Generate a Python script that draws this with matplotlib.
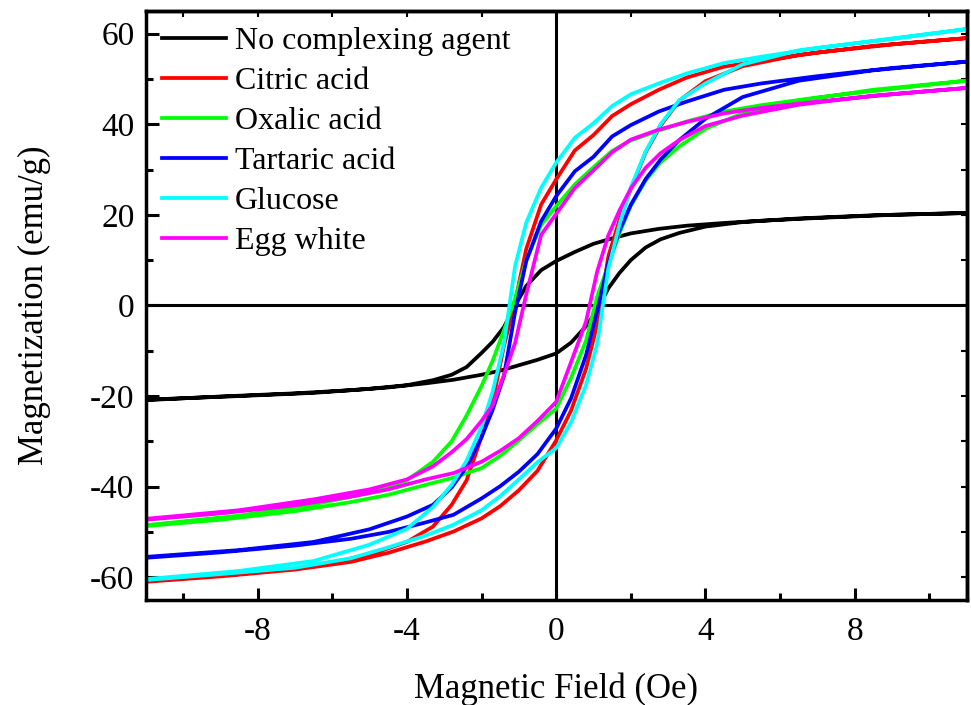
import matplotlib
matplotlib.use("Agg")
import matplotlib.pyplot as plt
from matplotlib.ticker import MultipleLocator

plt.rcParams['font.family'] = ['Liberation Serif', 'DejaVu Serif']
plt.rcParams['axes.unicode_minus'] = False

# field values (Oe): descending branch from +11 to -11, ascending branch back
field_down = [11, 9, 7, 5.5, 4.5, 3.5, 2.75, 2.0, 1.5, 1.0, 0.5, 0, -0.4, -0.8, -1.1,
              -1.4, -1.7, -2.0, -2.4, -2.8, -3.3, -4.0, -5.0, -6.5, -8.5, -11]
field_up = [-11, -9, -7, -5.5, -4.5, -3.5, -2.75, -2.0, -1.5, -1.0, -0.5, 0, 0.4, 0.8, 1.1,
            1.4, 1.7, 2.0, 2.4, 2.8, 3.3, 4.0, 5.0, 6.5, 8.5, 11]

labels = ['No complexing agent', 'Citric acid', 'Oxalic acid', 'Tartaric acid', 'Glucose', 'Egg white']
colors = ['#000000', '#ff0000', '#00ff00', '#0000ff', '#00ffff', '#ff00ff']

# magnetization (emu/g) read from the loops
none_down = [20.4, 20.0, 19.3, 18.7, 18.2, 17.6, 16.9, 15.9, 14.8, 13.6, 11.8, 9.8, 7.8, 4.3, 0.0,
             -4.8, -8.0, -10.5, -13.6, -15.3, -16.5, -17.6, -18.4, -19.3, -20.0, -20.8]
none_up = [-20.9, -20.1, -19.4, -18.7, -18.1, -17.2, -16.4, -15.3, -14.4, -13.2, -12.0, -10.6, -8.2, -4.6, -1.0,
           3.8, 7.2, 10.0, 12.8, 14.6, 16.0, 17.4, 18.4, 19.2, 19.9, 20.4]

citric_down = [59.0, 57.6, 55.8, 54.0, 52.7, 50.3, 47.6, 44.4, 41.8, 37.6, 34.2, 27.8, 22.3, 12.5, 0.9,
               -9.0, -21.2, -29.0, -38.6, -44.0, -48.8, -52.2, -55.0, -57.6, -59.3, -60.8]
citric_up = [-61.0, -59.8, -58.3, -56.6, -54.6, -52.1, -49.9, -47.0, -44.3, -40.8, -36.5, -29.8, -23.2, -14.0, -4.3,
             10.9, 18.9, 25.7, 33.8, 39.7, 45.2, 49.5, 52.8, 55.3, 57.3, 59.0]

oxalic_down = [49.6, 47.8, 45.9, 44.2, 42.8, 40.6, 38.6, 36.4, 34.1, 30.5, 26.7, 21.9, 17.8, 10.0, 1.5,
               -5.5, -12.2, -17.8, -24.3, -30.0, -34.5, -38.6, -41.4, -43.9, -46.4, -48.5]
oxalic_up = [-48.7, -47.3, -45.4, -43.4, -41.8, -39.6, -38.0, -35.9, -33.2, -29.8, -26.2, -22.8, -16.0, -7.8, 2.0,
             8.9, 16.0, 22.0, 27.6, 31.6, 35.1, 39.0, 42.4, 45.2, 47.6, 49.6]

tartaric_down = [53.8, 52.4, 50.6, 49.0, 47.6, 45.0, 42.8, 39.8, 37.3, 32.8, 29.6, 24.1, 18.6, 9.8, -1.5,
                 -15.6, -23.0, -29.1, -35.6, -40.2, -44.0, -46.6, -49.4, -52.2, -54.0, -55.5]
tartaric_up = [-55.7, -54.5, -53.0, -51.5, -50.0, -47.9, -46.2, -42.6, -39.9, -36.7, -32.8, -27.2, -20.5, -11.0, -1.2,
               9.4, 16.6, 22.2, 27.9, 32.2, 36.5, 41.2, 46.0, 49.6, 51.9, 53.8]

glucose_down = [61.0, 58.8, 56.8, 54.9, 53.5, 51.2, 49.0, 46.6, 44.0, 40.2, 37.0, 31.5, 26.0, 18.3, 8.7,
                -8.5, -19.0, -26.8, -34.3, -39.6, -44.5, -49.3, -52.8, -56.4, -58.6, -60.4]
glucose_up = [-60.6, -59.3, -57.9, -55.8, -53.4, -50.8, -48.4, -45.2, -42.1, -38.4, -34.6, -31.5, -25.8, -17.6, -8.5,
              8.2, 17.9, 26.0, 34.0, 40.0, 45.3, 49.0, 53.2, 56.3, 58.4, 61.0]

egg_down = [48.0, 46.6, 45.0, 43.6, 42.4, 40.5, 38.8, 36.6, 33.8, 29.8, 25.9, 20.2, 15.6, 2.5, -8.3,
            -15.4, -22.0, -25.5, -29.5, -32.4, -35.5, -38.4, -40.6, -42.8, -45.2, -47.1]
egg_up = [-47.3, -45.9, -44.1, -42.2, -40.6, -38.4, -37.0, -34.5, -32.1, -29.3, -25.5, -21.3, -12.5, -3.6, 7.5,
          15.5, 21.0, 25.8, 30.4, 33.6, 36.5, 39.6, 41.9, 44.3, 46.3, 48.0]

loops = [(none_down, none_up), (citric_down, citric_up), (oxalic_down, oxalic_up),
         (tartaric_down, tartaric_up), (glucose_down, glucose_up), (egg_down, egg_up)]

fig = plt.figure(figsize=(9.71, 7.05), dpi=100)
ax = fig.add_axes([0.150, 0.149, 0.8455, 0.8355])

# zero lines
ax.axhline(0, color='black', lw=2.2, zorder=1)
ax.axvline(0, color='black', lw=2.2, zorder=1)

for (m_down, m_up), lab, col in zip(loops, labels, colors):
    ax.plot(field_down + field_up, m_down + m_up, color=col, lw=2.7, label=lab, zorder=2)

ax.set_xlim(-11, 11)
ax.set_ylim(-65, 65)
ax.xaxis.set_major_locator(MultipleLocator(4))
ax.xaxis.set_minor_locator(MultipleLocator(2))
ax.yaxis.set_major_locator(MultipleLocator(20))
ax.yaxis.set_minor_locator(MultipleLocator(10))
ax.tick_params(which='major', direction='in', length=9, width=2.2, labelsize=24)
ax.tick_params(axis='x', which='major', pad=12)
ax.tick_params(axis='y', which='major', pad=8)
ax.tick_params(which='minor', direction='in', length=5, width=2.2)

# small ticks on top and right
top = ax.secondary_xaxis('top')
top.xaxis.set_major_locator(MultipleLocator(2))
top.tick_params(direction='in', length=4, width=1.5, labeltop=False)
right = ax.secondary_yaxis('right')
right.yaxis.set_major_locator(MultipleLocator(10))
right.tick_params(direction='in', length=4, width=1.5, labelright=False)
for s in list(ax.spines.values()) + [top.spines['top'], right.spines['right']]:
    s.set_linewidth(2.5)

ax.set_xlabel('Magnetic Field (Oe)', fontsize=25, labelpad=18)
ax.set_ylabel('Magnetization (emu/g)', fontsize=25, labelpad=28)

ax.legend(loc='upper left', frameon=False, fontsize=23, handlelength=2.0,
          handletextpad=0.3, labelspacing=0.33, borderaxespad=0.3, borderpad=0.2)

fig.savefig('out.png', dpi=100)
